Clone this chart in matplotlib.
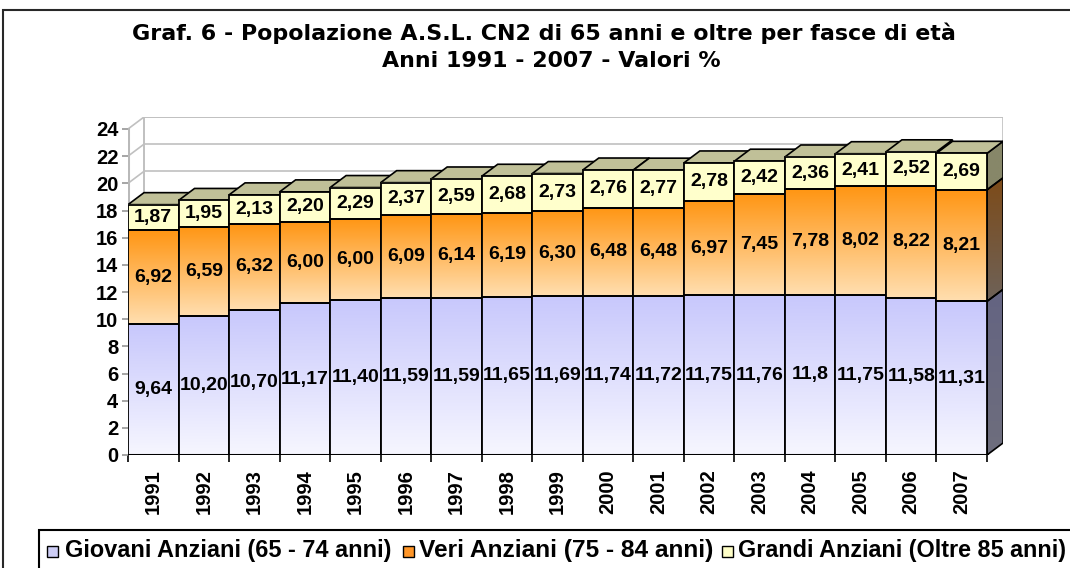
import numpy as np
import matplotlib
matplotlib.use('Agg')
import matplotlib.pyplot as plt
from matplotlib.patches import Polygon, Rectangle
from matplotlib.colors import LinearSegmentedColormap

# ---------------- data ----------------
years = ['1991', '1992', '1993', '1994', '1995', '1996', '1997', '1998', '1999',
         '2000', '2001', '2002', '2003', '2004', '2005', '2006', '2007']
giovani_txt = ['9,64', '10,20', '10,70', '11,17', '11,40', '11,59', '11,59', '11,65', '11,69',
               '11,74', '11,72', '11,75', '11,76', '11,8', '11,75', '11,58', '11,31']
veri_txt = ['6,92', '6,59', '6,32', '6,00', '6,00', '6,09', '6,14', '6,19', '6,30',
            '6,48', '6,48', '6,97', '7,45', '7,78', '8,02', '8,22', '8,21']
grandi_txt = ['1,87', '1,95', '2,13', '2,20', '2,29', '2,37', '2,59', '2,68', '2,73',
              '2,76', '2,77', '2,78', '2,42', '2,36', '2,41', '2,52', '2,69']
series_names = ['Giovani Anziani (65 - 74 anni)', 'Veri Anziani (75 - 84 anni)',
                'Grandi Anziani (Oltre 85 anni)']
y_ticks = list(range(0, 25, 2))

def to_num(lst):
    return np.array([float(s.replace(',', '.')) for s in lst])

giovani = to_num(giovani_txt)
veri = to_num(veri_txt)
grandi = to_num(grandi_txt)
series = [giovani, veri, grandi]
series_txt = [giovani_txt, veri_txt, grandi_txt]

# ---------------- styles ----------------
W, H = 1070, 568
front_cols = [((200, 200, 252), (246, 246, 255)),   # (top, bottom)
              ((255, 150, 20), (255, 222, 175)),
              ((255, 255, 204), (255, 255, 204))]
side_cols = [((100, 100, 130), (110, 110, 125)),
             ((125, 75, 25), (110, 98, 88)),
             ((135, 135, 105), (135, 135, 105))]
top_col = (192, 192, 152)
legend_cols = [(205, 205, 245), (255, 150, 40), (255, 255, 200)]
LABEL_FONT = 'Liberation Sans'

def c(rgb):
    return tuple(v / 255 for v in rgb)

def vgrad_cmap(top, bottom):
    return LinearSegmentedColormap.from_list('g', [c(bottom), c(top)])

fig = plt.figure(figsize=(W / 100, H / 100), dpi=100)
fig.patch.set_facecolor('white')

# axes in the front plane
ax_l, ax_r, ax_b, ax_t = 128, 1003, 455, 117
ax = fig.add_axes([ax_l / W, (H - ax_b) / H, (ax_r - ax_l) / W, (ax_b - ax_t) / H])
n = len(years)
bar_px = (987 - 128) / n
ddx = 16 / bar_px
ppu = (ax_b - ax_t - 12) / 24.0
ddy = 12 / ppu
ax.set_xlim(-0.5, n - 0.5 + ddx)
ax.set_ylim(0, 24 + ddy)
for s in ax.spines.values():
    s.set_visible(False)
ax.set_facecolor('none')

grid_c = c((192, 192, 192))
# back wall
ax.add_patch(Rectangle((-0.5 + ddx, ddy), n, 24, facecolor='white',
                       edgecolor=grid_c, lw=1.2, zorder=0.5))
for k in y_ticks:
    ax.plot([-0.5 + ddx, n - 0.5 + ddx], [k + ddy, k + ddy], color=grid_c, lw=1.2, zorder=0.6)
    ax.plot([-0.5, -0.5 + ddx], [k, k + ddy], color=grid_c, lw=1.2, zorder=0.6)
# left wall edges
ax.plot([-0.5 + ddx, -0.5 + ddx], [ddy, 24 + ddy], color=grid_c, lw=1.2, zorder=0.6)
ax.plot([-0.5, -0.5], [0, 24], color=c((185, 185, 185)), lw=2.2, zorder=0.7)

x = np.arange(n)
bottoms = np.zeros(n)
seg_bottoms = []
for vals in series:
    seg_bottoms.append(bottoms.copy())
    bottoms = bottoms + vals
totals = bottoms

grad = np.linspace(0, 1, 64).reshape(-1, 1)

for i in range(n):
    zb = 2 + i * 0.1
    for si, vals in enumerate(series):
        y0 = seg_bottoms[si][i]
        y1 = y0 + vals[i]
        xl, xr = i - 0.5, i + 0.5
        # side face
        side = Polygon([(xr, y0), (xr + ddx, y0 + ddy), (xr + ddx, y1 + ddy), (xr, y1)],
                       closed=True, facecolor='none', edgecolor='black', lw=1.2, zorder=zb + 0.02)
        ax.add_patch(side)
        im = ax.imshow(grad, extent=[xr, xr + ddx, y0, y1 + ddy], origin='lower', aspect='auto',
                       cmap=vgrad_cmap(*side_cols[si]), interpolation='bilinear', zorder=zb + 0.01)
        im.set_clip_path(side)
        # front face gradient
        ax.imshow(grad, extent=[xl, xr, y0, y1], origin='lower', aspect='auto',
                  cmap=vgrad_cmap(*front_cols[si]), interpolation='bilinear', zorder=zb + 0.03)
    # top face
    top = Polygon([(i - 0.5, totals[i]), (i - 0.5 + ddx, totals[i] + ddy),
                   (i + 0.5 + ddx, totals[i] + ddy), (i + 0.5, totals[i])], closed=True,
                  facecolor=c(top_col), edgecolor='black', lw=1.2, zorder=zb + 0.02)
    ax.add_patch(top)

# front face outlines through bar
for si, vals in enumerate(series):
    bars = ax.bar(x, vals, bottom=seg_bottoms[si], width=1.0, facecolor='none',
                  edgecolor='black', lw=1.3)
    for i, b in enumerate(bars):
        b.set_zorder(2 + i * 0.1 + 0.05)

# floor line
ax.plot([-0.5, n - 0.5], [0, 0], color='black', lw=2.2, zorder=50)

# data labels
for si, vals in enumerate(series):
    for i in range(n):
        ax.text(x[i], seg_bottoms[si][i] + vals[i] / 2, series_txt[si][i], ha='center',
                va='center', fontsize=14, fontweight='bold', family=LABEL_FONT, zorder=100)

# ticks
ax.set_yticks(y_ticks)
ax.set_yticklabels([str(t) for t in y_ticks], fontsize=14.5, fontweight='bold', family=LABEL_FONT)
ax.tick_params(axis='y', length=4, width=1.2, color=c((150, 150, 150)), pad=3)
ax.set_xticks(np.arange(-0.5, n, 1.0))
ax.set_xticklabels([])
ax.tick_params(axis='x', which='major', length=5, width=1.2, color='black', direction='out')
ax.set_xticks(x, minor=True)
ax.set_xticklabels(years, minor=True, rotation=90, fontsize=14.5, fontweight='bold',
                   family=LABEL_FONT)
ax.tick_params(axis='x', which='minor', length=0, pad=10)

# outer border and legend frame
fig.patches.append(Rectangle((3 / W, -0.1), 1.2, 1 - 10 / H + 0.1, transform=fig.transFigure,
                             facecolor='none', edgecolor=c((40, 40, 40)), lw=1.5, zorder=0))
fig.patches.append(Rectangle((39 / W, -0.1), 1.2, (H - 530) / H + 0.1, transform=fig.transFigure,
                             facecolor='none', edgecolor='black', lw=1.5, zorder=1))

renderer = fig.canvas.get_renderer()

def fit(t, target_px):
    bb = t.get_window_extent(renderer)
    t.set_fontsize(t.get_fontsize() * target_px / bb.width)

# title
t1 = fig.text(544 / W, 1 - 33 / H, 'Graf. 6 - Popolazione A.S.L. CN2 di 65 anni e oltre per fasce di età',
              ha='center', va='center', fontsize=14, fontweight='bold', family='DejaVu Sans')
fit(t1, 822)
t2 = fig.text(551 / W, 1 - 61 / H, 'Anni 1991 - 2007 - Valori %', ha='center', va='center',
              fontsize=t1.get_fontsize(), fontweight='bold', family='DejaVu Sans')

# legend
leg_marker_x = [47, 403, 722]
leg_text_x = [(65, 390), (419, 712), (738, 1065)]
leg_y = 551
for k in range(3):
    fig.patches.append(Rectangle((leg_marker_x[k] / W, (H - leg_y - 5.5) / H), 11 / W, 11 / H,
                                 transform=fig.transFigure, facecolor=c(legend_cols[k]),
                                 edgecolor='black', lw=1.0, zorder=3))
    tt = fig.text(leg_text_x[k][0] / W, 1 - leg_y / H, series_names[k], ha='left', va='center',
                  fontsize=13, fontweight='bold', family=LABEL_FONT)
    fit(tt, leg_text_x[k][1] - leg_text_x[k][0])

fig.savefig('out.png', dpi=100)
